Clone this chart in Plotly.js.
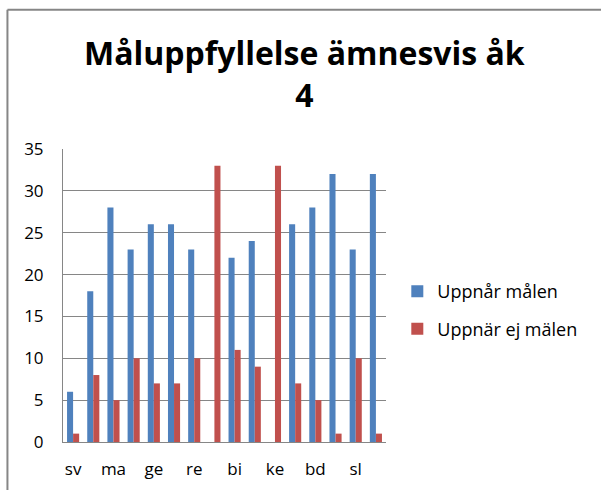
<!DOCTYPE html>
<html>
<head>
<meta charset="utf-8">
<script src="https://cdn.plot.ly/plotly-3.0.1.min.js"></script>
<style>html,body{margin:0;padding:0;background:#fff;}#chart{width:601px;height:490px;}</style>
</head>
<body>
<div id="chart"></div>
<script>
const categories = ["sv","en","ma","no","ge","hi","re","sh","bi","fy","ke","tk","bd","mu","sl","id"];
const shownLabels = ["sv","ma","ge","re","bi","ke","bd","sl"];
const uppnar = [6,18,28,23,26,26,23,0,22,24,0,26,28,32,23,32];
const uppnarEj = [1,8,5,10,7,7,10,33,11,9,33,7,5,1,10,1];
const yTicks = [0,5,10,15,20,25,30,35];

const font = "Open Sans, Liberation Sans, sans-serif";

const data = [
  {type:"bar", name:"Uppnår målen", legendgroup:"a", x:categories, y:uppnar, marker:{color:"#4F81BD"}},
  {type:"bar", name:"Uppnär ej mälen", legendgroup:"b", x:categories, y:uppnarEj, marker:{color:"#C0504D"}}
];

const layout = {
  width:601, height:490,
  paper_bgcolor:"#fff", plot_bgcolor:"#fff",
  margin:{l:63, r:215, t:149, b:48},
  barmode:"group", bargap:0.4, bargroupgap:0,
  xaxis:{type:"category", tickvals:shownLabels, ticktext:shownLabels, showgrid:false,
         showline:true, linecolor:"#868686", linewidth:1, ticks:"", ticklabelstandoff:12,
         tickfont:{family:font, size:17, color:"#000"}},
  yaxis:{range:[0,35], tickvals:yTicks, showgrid:true, gridcolor:"#868686", gridwidth:1,
         showline:true, linecolor:"#868686", linewidth:1, ticks:"", zeroline:false,
         tickfont:{family:font, size:17, color:"#000"}, ticklabelstandoff:15},
  showlegend:true,
  legend:{x:1.035, xanchor:"left", y:0.45, yanchor:"middle", font:{family:font, size:18, color:"#000"},
          traceorder:"grouped", tracegroupgap:11, bgcolor:"rgba(0,0,0,0)"},
  annotations:[
    {xref:"paper", yref:"paper", x:0.749, xanchor:"center", y:1.41, yanchor:"top", showarrow:false,
     text:"<b>Måluppfyllelse ämnesvis åk<br>4</b>", align:"center",
     font:{family:font, size:32, color:"#000"}}
  ],
  shapes:[
    {type:"line", xref:"paper", yref:"paper", x0:-0.172, x1:-0.172, y0:-0.2, y1:1.475, line:{color:"#868686", width:2}},
    {type:"line", xref:"paper", yref:"paper", x0:-0.172, x1:1.8, y0:1.475, y1:1.475, line:{color:"#868686", width:2}}
  ]
};

Plotly.newPlot("chart", data, layout, {displayModeBar:false, staticPlot:true});
</script>
</body>
</html>
